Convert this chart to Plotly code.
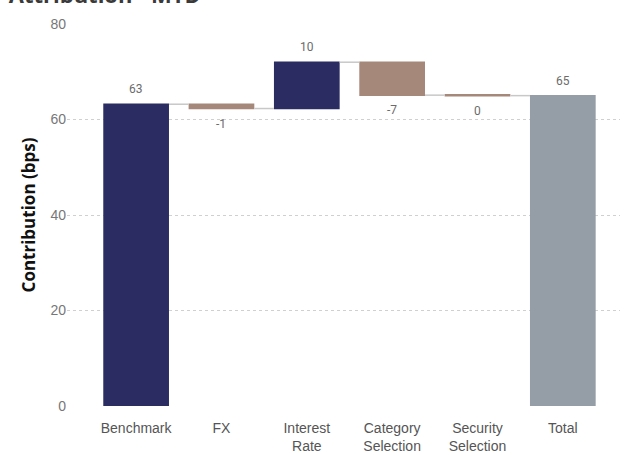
import plotly.graph_objects as go

categories = ["Benchmark", "FX", "Interest<br>Rate", "Category<br>Selection", "Security<br>Selection", "Total"]
values = [63.2, -0.9, 9.7, -6.9, -0.1, 0]
measures = ["relative", "relative", "relative", "relative", "relative", "total"]
total_value = 65.1
labels = [str(int(round(v))) for v in values[:-1]] + [str(int(round(total_value)))]

fig = go.Figure(go.Waterfall(
    x=categories,
    y=values,
    measure=measures,
    width=0.77,
    increasing=dict(marker=dict(color="#2b2d62", line=dict(width=0))),
    decreasing=dict(marker=dict(color="#a6887a", line=dict(width=0))),
    totals=dict(marker=dict(color="#959ea6", line=dict(width=0))),
    connector=dict(line=dict(color="#c8c8c8", width=1.5)),
    hoverinfo="skip",
))

# data labels placed at the end of each bar
running = 0.0
for cat, v, m, lab in zip(categories, values, measures, labels):
    if m == "total":
        end = running
        up = True
    else:
        end = running + v
        up = v >= 0
        running = end
    fig.add_annotation(
        x=cat, y=end, text=lab, showarrow=False,
        yanchor="bottom" if up else "top",
        yshift=6 if up else -6,
        font=dict(family="Roboto", size=12, color="#6b6b6b"),
    )

fig.update_layout(
    width=624, height=455,
    margin=dict(l=67, r=4, t=24, b=49, autoexpand=False),
    paper_bgcolor="white", plot_bgcolor="white",
    showlegend=False,
    title=dict(text="<b>Attribution - MTD</b>", x=0.014, xanchor="left",
               y=0.994, yanchor="bottom", yref="container", automargin=False,
               font=dict(family="Open Sans", size=22, color="#3a3a3a")),
    xaxis=dict(
        range=[-0.81, 5.67], automargin=False,
        showgrid=False, zeroline=False, showline=False,
        ticks="outside", ticklen=9, tickcolor="rgba(0,0,0,0)",
        tickfont=dict(family="Liberation Sans", size=14, color="#555555"),
    ),
    yaxis=dict(
        range=[0, 80], tickvals=[0, 20, 40, 60, 80], automargin=False,
        showgrid=True, gridcolor="#d0d0d0", griddash="dot", gridwidth=1,
        zeroline=False, showline=False, ticks="",
        tickfont=dict(family="Liberation Sans", size=14, color="#777777"),
        title=dict(text="<b>Contribution (bps)</b>", standoff=10,
                   font=dict(family="Open Sans", size=17, color="#111111")),
    ),
)

fig.write_html("out.html", config={"displayModeBar": False},
               post_script="document.body.style.margin='0';")
